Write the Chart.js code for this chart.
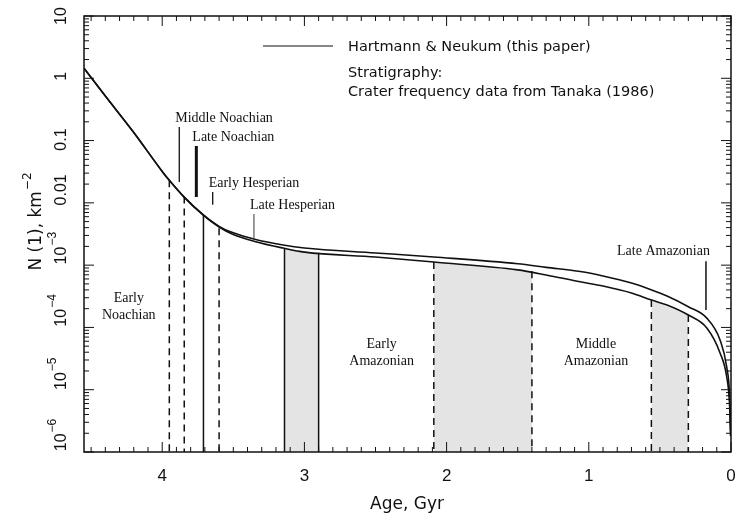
<!DOCTYPE html>
<html lang="en">
<head>
    <meta charset="UTF-8">
    <title>Mars cratering chronology</title>
    <script src="https://cdn.jsdelivr.net/npm/chart.js@4"></script>
    <style>
        body { margin: 0; background: #fff; }
        #wrap { width: 741px; height: 520px; }
    </style>
</head>
<body>
<div id="wrap"><canvas id="chart" width="741" height="520"></canvas></div>
<script>
    // curves: age in Gyr, N(1) in km^-2
    const ages   = [4.55, 4.4, 4.2, 4.0, 3.95, 3.85, 3.71, 3.6, 3.5, 3.35, 3.15, 3.0, 2.5, 2.09, 1.5, 1.3, 1.06, 0.9, 0.7, 0.558, 0.45, 0.3, 0.17, 0.077, 0.03, 0.01, 0.003];
    const upperN = [1.45, 0.52, 0.135, 0.032, 0.023, 0.0127, 0.0064, 0.0042, 0.0033, 0.0026, 0.0021, 0.00188, 0.00157, 0.00135, 0.00105, 0.00092, 0.00079, 0.00067, 0.000516, 0.0004, 0.000319, 0.000215, 0.000141, 0.000063, 0.000023, 0.0000082, 0.0000022];
    const lowerN = [1.45, 0.52, 0.135, 0.032, 0.023, 0.0126, 0.0063, 0.0041, 0.0031, 0.0024, 0.00188, 0.00162, 0.00135, 0.00112, 0.00084, 0.000695, 0.00054, 0.000462, 0.000357, 0.000275, 0.000229, 0.000158, 0.000098, 0.000039, 0.000016, 0.0000057, 0.0000018];

    // stratigraphic boundaries (Tanaka 1986)
    const boundaryAges   = [3.95, 3.845, 3.71, 3.6, 3.14, 2.90, 2.09, 1.40, 0.56, 0.30];
    const boundaryTops   = [0.023, 0.0126, 0.0063, 0.0039, 0.00187, 0.00158, 0.00112, 0.00080, 0.000275, 0.000158];
    const boundaryDashed = [true, true, false, true, false, false, true, true, true, true];

    // shaded bands between boundaries
    const bandFrom    = [3.14, 2.09, 0.56];
    const bandTo      = [2.90, 1.40, 0.30];
    const bandTopFrom = [0.00187, 0.00112, 0.000275];
    const bandTopTo   = [0.00158, 0.00080, 0.000158];

    // period names with leader lines
    const leaderNames  = ['Middle Noachian', 'Late Noachian', 'Early Hesperian', 'Late Hesperian', 'Late Amazonian'];
    const leaderAges   = [3.88, 3.76, 3.645, 3.355, 0.176];
    const leaderTop    = [0.165, 0.082, 0.0149, 0.0066, 0.00116];
    const leaderBottom = [0.0216, 0.0124, 0.0093, 0.0027, 0.00019];

    // period names written inside the plot
    const regionNames = [['Early', 'Noachian'], ['Early', 'Amazonian'], ['Middle', 'Amazonian']];
    const regionAges  = [4.235, 2.457, 0.95];
    const regionN     = [2.2e-4, 4.0e-5, 4.0e-5];

    const xTicks = [4, 3, 2, 1, 0];
    const yTicks = [10, 1, 0.1, 0.01, 1e-3, 1e-4, 1e-5, 1e-6];
    const yTickBase = ['10', '1', '0.1', '0.01', '10', '10', '10', '10'];
    const yTickExp  = ['', '', '', '', '\u22123', '\u22124', '\u22125', '\u22126'];
    // the printed labels sit a little above their ticks
    const yLabelShift = [0, -2, -1, -13, -17, -17, -16, -17];

    const INK = '#111';

    const datasets = [];
    // curves
    datasets.push({ data: ages.map((a, i) => ({ x: a, y: upperN[i] })), borderColor: INK, borderWidth: 1.6, cubicInterpolationMode: 'monotone', order: 0 });
    datasets.push({ data: ages.map((a, i) => ({ x: a, y: lowerN[i] })), borderColor: INK, borderWidth: 1.6, cubicInterpolationMode: 'monotone', order: 0 });
    // bands
    bandFrom.forEach((a, i) => {
        datasets.push({
            data: [{ x: a, y: bandTopFrom[i] }, { x: bandTo[i], y: bandTopTo[i] }],
            borderWidth: 0, borderColor: 'rgba(0,0,0,0)',
            backgroundColor: '#e4e4e4', fill: 'start', order: 10
        });
    });
    // boundary lines
    boundaryAges.forEach((a, i) => {
        datasets.push({
            data: [{ x: a, y: boundaryTops[i] }, { x: a, y: 1e-6 }],
            borderColor: INK, borderWidth: 1.5,
            borderDash: boundaryDashed[i] ? [7, 5] : [], order: 1
        });
    });
    // leaders
    const leaderWidth = [1.3, 3, 1.3, 1.3, 1.5];
    const leaderColor = [INK, INK, INK, '#666', INK];
    leaderAges.forEach((a, i) => {
        datasets.push({
            data: [{ x: a, y: leaderTop[i] }, { x: a, y: leaderBottom[i] }],
            borderColor: leaderColor[i], borderWidth: leaderWidth[i], order: 1
        });
    });

    function seg(ctx, x1, y1, x2, y2) {
        ctx.beginPath();
        ctx.moveTo(x1, y1);
        ctx.lineTo(x2, y2);
        ctx.stroke();
    }

    const extras = {
        id: 'extras',
        afterDatasetsDraw(chart) {
            const ctx = chart.ctx;
            const area = chart.chartArea;
            const xs = chart.scales.x, ys = chart.scales.y;
            ctx.save();
            ctx.strokeStyle = INK;
            ctx.fillStyle = INK;

            // frame
            ctx.lineWidth = 1.5;
            ctx.strokeRect(area.left, area.top, area.right - area.left, area.bottom - area.top);

            // x ticks, inward, bottom and top
            ctx.lineWidth = 1;
            for (let i = 0; i <= 45; i++) {
                const px = xs.getPixelForValue(i / 10);
                const len = i % 10 === 0 ? 10 : 5;
                seg(ctx, px, area.bottom, px, area.bottom - len);
                seg(ctx, px, area.top, px, area.top + len);
            }
            // y ticks, log
            for (let e = -6; e <= 1; e++) {
                for (let m = 1; m <= 9; m++) {
                    const v = m * Math.pow(10, e);
                    if (v > 10 + 1e-9) continue;
                    const py = ys.getPixelForValue(v);
                    const len = m === 1 ? 10 : 5;
                    seg(ctx, area.left, py, area.left + len, py);
                    seg(ctx, area.right, py, area.right - len, py);
                }
            }

            // x tick labels
            ctx.font = '17px "Liberation Sans"';
            ctx.textAlign = 'center';
            ctx.textBaseline = 'middle';
            xTicks.forEach(v => ctx.fillText(String(v), xs.getPixelForValue(v), 476));

            // y tick labels, rotated
            yTicks.forEach((v, i) => {
                const py = ys.getPixelForValue(v) + yLabelShift[i];
                ctx.save();
                ctx.translate(62, py);
                ctx.rotate(-Math.PI / 2);
                ctx.font = '16px "Liberation Sans"';
                const wb = ctx.measureText(yTickBase[i]).width;
                ctx.font = '12px "Liberation Sans"';
                const we = yTickExp[i] ? ctx.measureText(yTickExp[i]).width + 1 : 0;
                const x0 = -(wb + we) / 2;
                ctx.textAlign = 'left';
                ctx.font = '16px "Liberation Sans"';
                ctx.fillText(yTickBase[i], x0, 0);
                if (yTickExp[i]) {
                    ctx.font = '12px "Liberation Sans"';
                    ctx.fillText(yTickExp[i], x0 + wb + 1, -9);
                }
                ctx.restore();
            });

            // axis titles
            ctx.font = '17px "DejaVu Sans"';
            ctx.textAlign = 'center';
            ctx.fillText('Age, Gyr', 407, 505);
            ctx.save();
            ctx.translate(37, 222);
            ctx.rotate(-Math.PI / 2);
            const t1 = 'N (1), km';
            const w1 = ctx.measureText(t1).width;
            ctx.font = '12px "DejaVu Sans"';
            const w2 = ctx.measureText('\u22122').width;
            ctx.textAlign = 'left';
            ctx.font = '17px "DejaVu Sans"';
            ctx.fillText(t1, -(w1 + w2) / 2, 0);
            ctx.font = '12px "DejaVu Sans"';
            ctx.fillText('\u22122', -(w1 + w2) / 2 + w1 + 1, -9);
            ctx.restore();

            // legend
            ctx.lineWidth = 1.2;
            seg(ctx, 263, 46, 333, 46);
            ctx.font = '14.5px "DejaVu Sans"';
            ctx.textAlign = 'left';
            ctx.fillText('Hartmann & Neukum (this paper)', 348, 47);
            ctx.fillText('Stratigraphy:', 348, 73);
            ctx.fillText('Crater frequency data from Tanaka (1986)', 348, 92);

            // period names
            ctx.font = '14px "Liberation Serif"';
            leaderNames.forEach((name, i) => {
                const px = xs.getPixelForValue(leaderAges[i]);
                const py = ys.getPixelForValue(leaderTop[i]) - 9;
                if (i === leaderNames.length - 1) {
                    ctx.textAlign = 'right';
                    ctx.fillText(name, px + 4, py - 1);
                } else {
                    ctx.textAlign = 'left';
                    ctx.fillText(name, px - 4, py);
                }
            });
            ctx.textAlign = 'center';
            regionNames.forEach((lines, i) => {
                const px = xs.getPixelForValue(regionAges[i]);
                const py = ys.getPixelForValue(regionN[i]);
                ctx.fillText(lines[0], px, py - 8);
                ctx.fillText(lines[1], px, py + 9);
            });
            ctx.restore();
        }
    };

    new Chart(document.getElementById('chart'), {
        type: 'line',
        data: { datasets: datasets },
        options: {
            responsive: false,
            animation: false,
            elements: { point: { radius: 0 } },
            layout: { padding: { left: 84, right: 10, top: 16, bottom: 68 } },
            plugins: { legend: { display: false }, tooltip: { enabled: false } },
            scales: {
                x: { type: 'linear', min: 0, max: 4.55, reverse: true, display: false },
                y: { type: 'logarithmic', min: 1e-6, max: 10, display: false }
            }
        },
        plugins: [extras]
    });
</script>
</body>
</html>
